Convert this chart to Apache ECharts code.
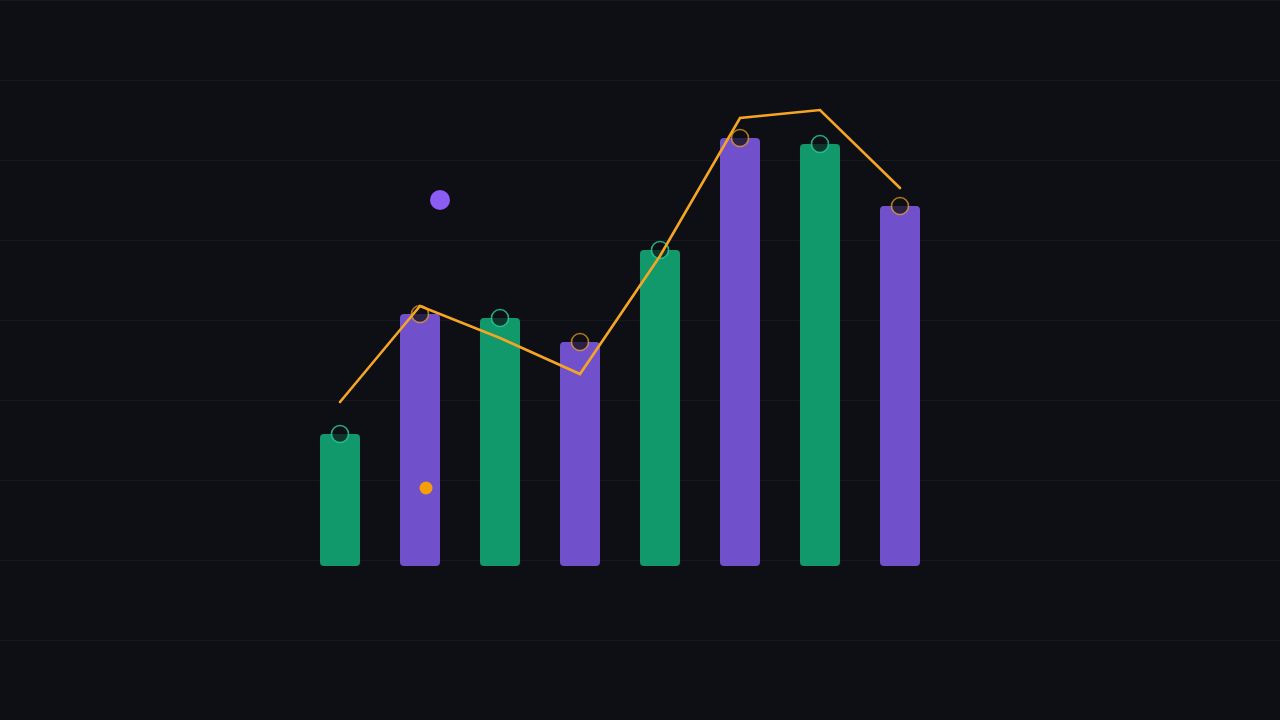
<!DOCTYPE html>
<html>
<head>
<meta charset="utf-8">
<title>chart</title>
<script src="https://cdn.jsdelivr.net/npm/echarts@6/dist/echarts.min.js"></script>
<style>
  html, body { margin: 0; padding: 0; background: #0e0f14; }
  #main { width: 1280px; height: 720px; }
</style>
</head>
<body>
<div id="main"></div>
<script>
// data
var categories = ['1', '2', '3', '4', '5', '6', '7', '8'];
var barValues = [33, 63, 62, 56, 79, 107, 105.5, 90];
var lineValues = [41, 65, 57, 48, 77.5, 112, 114, 94.5];
// two loose dots, in page coordinates of the background grid
var purpleDot = [[440, 200]];
var orangeDot = [[426, 488]];

var GREEN = '#11996b';
var PURPLE = '#7150cc';
var ORANGE = '#f5a524';

var myChart = echarts.init(document.getElementById('main'));

var barData = barValues.map(function (v, i) {
    return { value: v, itemStyle: { color: i % 2 === 0 ? GREEN : PURPLE } };
});
var ringData = barValues.map(function (v, i) {
    return {
        value: v,
        itemStyle: { borderColor: i % 2 === 0 ? 'rgba(40,200,150,0.85)' : 'rgba(245,165,36,0.7)' }
    };
});

var option = {
    backgroundColor: '#0e0f14',
    animation: false,
    grid: [
        { left: 0, right: 0, top: 0, bottom: 0 },
        { left: 300, width: 640, top: 86, bottom: 154 }
    ],
    xAxis: [
        { gridIndex: 0, type: 'value', min: 0, max: 1280, show: false },
        {
            gridIndex: 1, type: 'category', data: categories,
            axisLine: { show: false }, axisTick: { show: false }, axisLabel: { show: false }
        }
    ],
    yAxis: [
        {
            gridIndex: 0, type: 'value', min: 0, max: 720, interval: 80, inverse: true,
            axisLine: { show: false }, axisTick: { show: false }, axisLabel: { show: false },
            splitLine: { show: true, lineStyle: { color: '#16181e', width: 1 } }
        },
        {
            gridIndex: 1, type: 'value', min: 0, max: 120,
            axisLine: { show: false }, axisTick: { show: false }, axisLabel: { show: false },
            splitLine: { show: false }
        }
    ],
    series: [
        {
            type: 'bar',
            xAxisIndex: 1, yAxisIndex: 1,
            barWidth: 40,
            itemStyle: { borderRadius: 4 },
            data: barData
        },
        {
            type: 'scatter',
            xAxisIndex: 1, yAxisIndex: 1,
            symbolSize: 17,
            itemStyle: { color: 'rgba(14,15,20,0.72)', borderWidth: 1.6, opacity: 1 },
            data: ringData,
            z: 3
        },
        {
            type: 'line',
            xAxisIndex: 1, yAxisIndex: 1,
            showSymbol: false,
            lineStyle: { color: ORANGE, width: 2.6, cap: 'round', join: 'miter' },
            data: lineValues,
            z: 4
        },
        {
            type: 'scatter',
            xAxisIndex: 0, yAxisIndex: 0,
            symbolSize: 20,
            itemStyle: { color: '#8b5cf6', opacity: 1 },
            data: purpleDot,
            z: 5
        },
        {
            type: 'scatter',
            xAxisIndex: 0, yAxisIndex: 0,
            symbolSize: 13,
            itemStyle: { color: '#f59e0b', opacity: 1 },
            data: orangeDot,
            z: 5
        }
    ]
};

myChart.setOption(option);
</script>
</body>
</html>
